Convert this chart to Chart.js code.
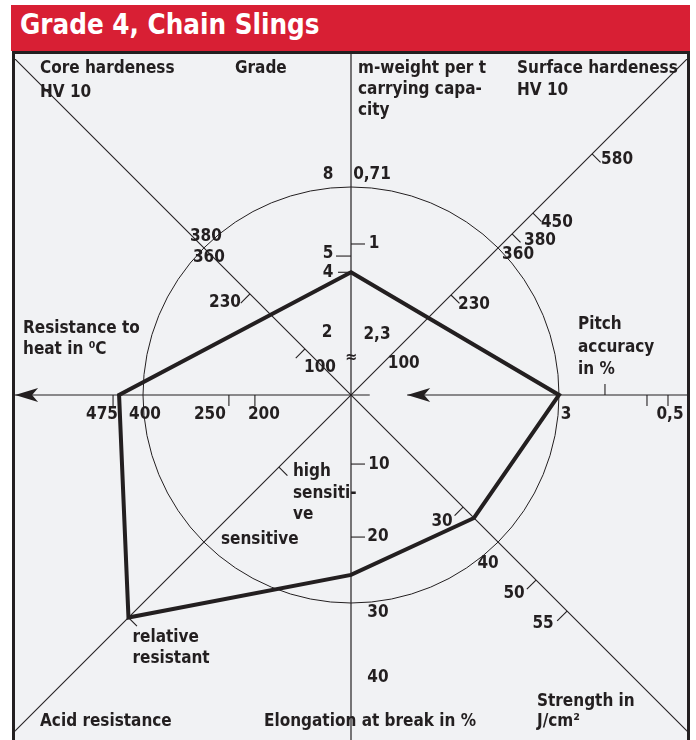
<!DOCTYPE html>
<html>
<head>
<meta charset="utf-8">
<script src="https://cdn.jsdelivr.net/npm/chart.js@4/dist/chart.umd.min.js"></script>
<style>
  html, body { margin: 0; padding: 0; background: #fff; width: 696px; height: 740px; overflow: hidden; }
  #head { position: absolute; left: 11px; top: 5px; width: 679px; height: 46px; background: #d81f34; color: #fff;
          font: bold 27.5px 'DejaVu Sans Condensed', 'DejaVu Sans', sans-serif;
          line-height: 38px; padding-left: 9px; box-sizing: border-box; white-space: nowrap; }
  #frame { position: absolute; left: 12px; top: 51px; width: 678px; height: 700px; background: #f1f2f4;
           border: 3px solid #231f20; border-bottom: none; box-sizing: border-box; }
  #c { position: absolute; left: 0; top: 0; width: 696px; height: 740px; }
</style>
</head>
<body>
<div id="head">Grade 4, Chain Slings</div>
<div id="frame"></div>
<canvas id="c" width="696" height="740"></canvas>
<script>
// Property axes, clockwise from the top
const axisNames = ['Grade / m-weight', 'Surface hardeness', 'Pitch accuracy', 'Strength',
                   'Elongation at break', 'Acid resistance', 'Resistance to heat', 'Core hardeness'];
// Rating of grade 4 on each axis (reference circle = 100); no point on the two upper diagonals
const ratings = [59, null, 100, 83.6, 86.5, 151.3, 111.5, null];

// Tick labels of every axis and where they sit on the rating scale
const gradeTicks = ['8', '5', '4', '2'];
const gradeAt = [100, 66.8, 59, 29.8];
const weightTicks = ['0,71', '1', '2,3', '≈'];
const weightAt = [100, 72.6, 29, 17.8];
const surfaceTicks = ['100', '230', '360', '380', '450', '580'];
const surfaceAt = [27, 68, 100, 109.5, 123.7, 163.9];
const pitchTicks = ['3', '', '', '0,5'];
const pitchAt = [100, 122.1, 142.3, 152.4];
const strengthTicks = ['30', '40', '50', '55'];
const strengthAt = [76.2, 100, 125.8, 146.9];
const elongationTicks = ['10', '20', '30', '40'];
const elongationAt = [33.2, 68.3, 100, 136];
const acidTicks = [['high', 'sensiti-', 've'], ['sensitive'], ['relative', 'resistant']];
const acidAt = [49, 100, 151.3];
const heatTicks = ['475', '400', '250', '200'];
const heatAt = [114.4, 100, 58.7, 46.2];
const coreTicks = ['100', '230', '380', '360'];
const coreAt = [31.3, 68.7, 100, 100];

// Drawing layout: [tick side, tick length, label dx, label dy]
const layout = [
  { ticks: gradeTicks, at: gradeAt, axis: 0, marks: [[0,0,-23,-12],[-1,15,-23,-2],[-1,13,-23,0],[0,0,-24,0]] },
  { ticks: weightTicks, at: weightAt, axis: 0, marks: [[0,0,21,-12],[1,14,23,0],[0,0,26,0],[0,0,0,0]] },
  { ticks: surfaceTicks, at: surfaceAt, axis: 1, marks: [[0,0,13,8],[1,12,23,10],[0,0,20,7],[1,12,28,7],[1,12,24,10],[1,12,25,6]] },
  { ticks: pitchTicks, at: pitchAt, axis: 2, marks: [[0,0,7,20],[-1,11,0,0],[1,11,0,0],[1,11,2,20]] },
  { ticks: strengthTicks, at: strengthAt, axis: 3, marks: [[1,12,-21,15],[0,0,-10,21],[1,13,-22,14],[1,14,-24,13]] },
  { ticks: elongationTicks, at: elongationAt, axis: 4, marks: [[-1,14,28,1],[-1,14,27,0],[0,0,27,10],[0,0,27,0]] },
  { ticks: acidTicks, at: acidAt, axis: 5, marks: [[-1,12,14,5],[0,0,17,-3],[-1,12,4,20]], left: true },
  { ticks: heatTicks, at: heatAt, axis: 6, marks: [[-1,11,-11,20],[0,0,2,20],[-1,11,-19,20],[-1,11,9,20]] },
  { ticks: coreTicks, at: coreAt, axis: 7, marks: [[-1,13,15,19],[-1,13,-25,9],[0,0,2,-11],[0,0,5,10]] }
];

// Axis titles
const titles = [
  { x: 40,  y: [69, 93],        lines: ['Core hardeness', 'HV 10'] },
  { x: 235, y: [69],            lines: ['Grade'] },
  { x: 358, y: [69, 90, 111],   lines: ['m-weight per t', 'carrying capa-', 'city'] },
  { x: 517, y: [69, 91],        lines: ['Surface hardeness', 'HV 10'] },
  { x: 23,  y: [329, 350],      lines: ['Resistance to', 'heat in ⁰C'] },
  { x: 578, y: [325, 348, 370], lines: ['Pitch', 'accuracy', 'in %'] },
  { x: 40,  y: [722],           lines: ['Acid resistance'] },
  { x: 264, y: [722],           lines: ['Elongation at break in %'] },
  { x: 537, y: [702, 722],      lines: ['Strength in', 'J/cm²'] }
];

const ink = '#231f20';
const FAMILY = "'DejaVu Sans Condensed', 'DejaVu Sans', sans-serif";
const wordFont = 'bold 17px ' + FAMILY;
const numFont = 'bold 17px ' + FAMILY;
const frameBox = { left: 15, top: 54, right: 687, bottom: 740 };

function unitOf(scale, i) {
  const p = scale.getPointPositionForValue(i, 100);
  const dx = p.x - scale.xCenter, dy = p.y - scale.yCenter;
  const d = Math.hypot(dx, dy);
  return { x: dx / d, y: dy / d };
}

function arrowHead(ctx, tip, dir, len, half, notch) {
  const bx = tip.x - dir.x * len, by = tip.y - dir.y * len;
  const nx = -dir.y, ny = dir.x;
  ctx.beginPath();
  ctx.moveTo(tip.x, tip.y);
  ctx.lineTo(bx + nx * half, by + ny * half);
  ctx.lineTo(tip.x - dir.x * (len - notch), tip.y - dir.y * (len - notch));
  ctx.lineTo(bx - nx * half, by - ny * half);
  ctx.closePath();
  ctx.fill();
}

const axesPlugin = {
  id: 'propertyAxes',
  beforeDatasetsDraw(chart) {
    const s = chart.scales.r, ctx = chart.ctx;
    const P = (i, v) => s.getPointPositionForValue(i, v);
    ctx.save();
    ctx.beginPath();
    ctx.rect(frameBox.left, frameBox.top, frameBox.right - frameBox.left, frameBox.bottom - frameBox.top);
    ctx.clip();
    ctx.strokeStyle = ink; ctx.fillStyle = ink; ctx.lineWidth = 1.2;
    const seg = (a, b) => { ctx.beginPath(); ctx.moveTo(a.x, a.y); ctx.lineTo(b.x, b.y); ctx.stroke(); };
    // vertical axis and the two diagonals run right across the frame
    seg(P(0, 175), P(4, 175));
    seg(P(1, 240), P(5, 240));
    seg(P(7, 240), P(3, 240));
    // horizontal axis, broken just right of the centre
    seg(P(6, 175), P(2, 9));
    seg(P(2, 27), P(2, 175));
    arrowHead(ctx, P(6, 161.5), unitOf(s, 6), 23, 7, 6);
    const u2 = unitOf(s, 2);
    arrowHead(ctx, P(2, 27), { x: -u2.x, y: -u2.y }, 23, 7, 6);
    // tick marks
    ctx.lineWidth = 1.1;
    layout.forEach(group => {
      const u = unitOf(s, group.axis);
      const n = { x: -u.y, y: u.x };
      group.at.forEach((v, k) => {
        const [side, len] = group.marks[k];
        if (!side) return;
        const p = P(group.axis, v);
        seg(p, { x: p.x + n.x * side * len, y: p.y + n.y * side * len });
      });
    });
    ctx.restore();
  },
  afterDatasetsDraw(chart) {
    const s = chart.scales.r, ctx = chart.ctx;
    ctx.save();
    ctx.fillStyle = ink;
    ctx.textBaseline = 'middle';
    layout.forEach(group => {
      group.at.forEach((v, k) => {
        const p = s.getPointPositionForValue(group.axis, v);
        const [, , dx, dy] = group.marks[k];
        const t = group.ticks[k];
        if (group.left) {
          ctx.font = wordFont; ctx.textAlign = 'left';
          t.forEach((line, j) => ctx.fillText(line, p.x + dx, p.y + dy + j * 21.5));
        } else if (t) {
          ctx.font = t === '≈' ? 'bold 16px ' + FAMILY : numFont;
          ctx.textAlign = 'center';
          ctx.fillText(t, p.x + dx, p.y + dy);
        }
      });
    });
    ctx.font = wordFont; ctx.textAlign = 'left';
    titles.forEach(tt => tt.lines.forEach((line, j) => ctx.fillText(line, tt.x, tt.y[j])));
    ctx.restore();
  }
};

new Chart(document.getElementById('c'), {
  type: 'radar',
  data: {
    labels: axisNames,
    datasets: [{
      data: ratings,
      spanGaps: true,
      clip: false,
      fill: false,
      borderColor: ink,
      borderWidth: 4,
      borderJoinStyle: 'miter',
      backgroundColor: 'rgba(0,0,0,0)',
      pointRadius: 0,
      pointHoverRadius: 0,
      tension: 0
    }]
  },
  options: {
    responsive: false,
    animation: false,
    devicePixelRatio: 1,
    layout: { padding: { left: 143, top: 187, right: 137, bottom: 137 } },
    plugins: { legend: { display: false }, tooltip: { enabled: false }, title: { display: false } },
    scales: {
      r: {
        min: 0, max: 100,
        ticks: { display: false, stepSize: 100 },
        grid: { circular: true, color: ink, lineWidth: 1 },
        angleLines: { display: false },
        pointLabels: { display: false }
      }
    }
  },
  plugins: [axesPlugin]
});
</script>
</body>
</html>
